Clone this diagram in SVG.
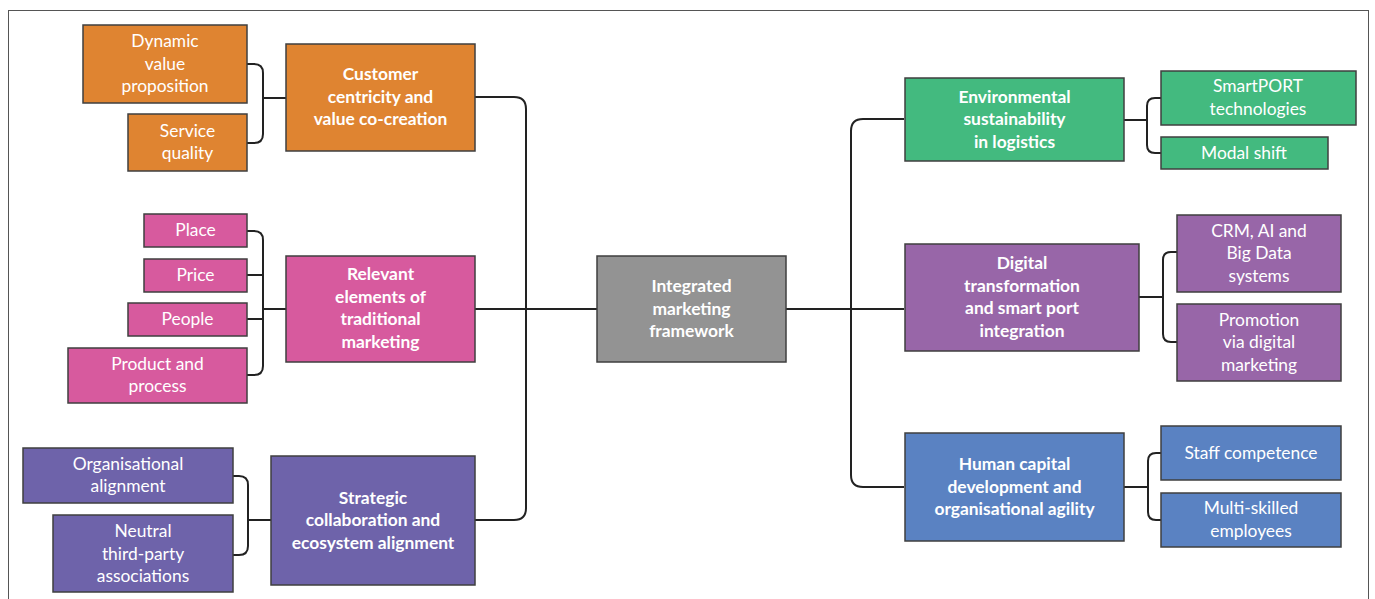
<svg xmlns="http://www.w3.org/2000/svg" width="1375" height="599" viewBox="0 0 1375 599">
<style>
.n rect{stroke:#3f3f3f;stroke-width:1.5}
.n text{font-family:Lato,"Liberation Sans",sans-serif;font-size:17.4px;fill:#ffffff;text-anchor:middle}
.b text{font-weight:bold}
.or rect{fill:#df8431}
.pk rect{fill:#d75a9e}
.pu rect{fill:#6e63aa}
.gy rect{fill:#939393}
.gr rect{fill:#43ba7f}
.vi rect{fill:#9866a8}
.bl rect{fill:#5a82c2}
.c path{fill:none;stroke:#222;stroke-width:2}
</style>
<rect x="0" y="0" width="1375" height="599" fill="#ffffff"/>
<rect x="8.5" y="10.5" width="1360" height="620" fill="none" stroke="#555" stroke-width="1"/>
<g class="c" id="connectors">
<path d="M475,97 H514 Q526,97 526,109 V508 Q526,520 514,520 H475"/>
<path d="M475,309 H597"/>
<path d="M904,119 H863 Q851,119 851,131 V475 Q851,487 863,487 H904"/>
<path d="M786,309 H904"/>
<path d="M247,64 H254 Q263,64 263,73 V134 Q263,143 254,143 H247 M263,98 H286"/>
<path d="M247,231 H254 Q263,231 263,240 V366 Q263,375 254,375 H247 M247,275 H263 M247,319 H263 M263,309 H286"/>
<path d="M232,476 H239 Q248,476 248,485 V546 Q248,555 239,555 H232 M248,520 H271"/>
<path d="M1124,120 H1147 M1161,98 H1155 Q1147,98 1147,106 V145 Q1147,153 1155,153 H1161"/>
<path d="M1139,297 H1163 M1177,252 H1171 Q1163,252 1163,260 V334 Q1163,342 1171,342 H1177"/>
<path d="M1124,487 H1148 M1161,453 H1156 Q1148,453 1148,461 V512 Q1148,520 1156,520 H1161"/>
</g>
<g id="dynamic" class="n or"><rect x="83" y="25" width="164" height="78"/><text x="165" y="47">Dynamic<tspan x="165" dy="22.5">value</tspan><tspan x="165" dy="22.5">proposition</tspan></text></g>
<g id="service" class="n or"><rect x="128" y="114" width="119" height="57"/><text x="187.5" y="136.5">Service<tspan x="187.5" dy="22.5">quality</tspan></text></g>
<g id="customer" class="n or b"><rect x="286" y="44" width="189" height="107"/><text x="380.5" y="80">Customer<tspan x="380.5" dy="22.5">centricity and</tspan><tspan x="380.5" dy="22.5">value co-creation</tspan></text></g>
<g id="place" class="n pk"><rect x="144" y="214" width="103" height="33"/><text x="195.5" y="236">Place</text></g>
<g id="price" class="n pk"><rect x="144" y="259" width="103" height="33"/><text x="195.5" y="281">Price</text></g>
<g id="people" class="n pk"><rect x="128" y="303" width="119" height="33"/><text x="187.5" y="325">People</text></g>
<g id="product" class="n pk"><rect x="68" y="348" width="179" height="55"/><text x="157.5" y="369.5">Product and<tspan x="157.5" dy="22.5">process</tspan></text></g>
<g id="relevant" class="n pk b"><rect x="286" y="256" width="189" height="106"/><text x="380.5" y="280">Relevant<tspan x="380.5" dy="22.5">elements of</tspan><tspan x="380.5" dy="22.5">traditional</tspan><tspan x="380.5" dy="22.5">marketing</tspan></text></g>
<g id="organisational" class="n pu"><rect x="23" y="448" width="210" height="55"/><text x="128" y="469.5">Organisational<tspan x="128" dy="22.5">alignment</tspan></text></g>
<g id="neutral" class="n pu"><rect x="53" y="515" width="180" height="77"/><text x="143" y="537">Neutral<tspan x="143" dy="22.5">third-party</tspan><tspan x="143" dy="22.5">associations</tspan></text></g>
<g id="strategic" class="n pu b"><rect x="271" y="456" width="204" height="129"/><text x="373" y="503.5">Strategic<tspan x="373" dy="22.5">collaboration and</tspan><tspan x="373" dy="22.5">ecosystem alignment</tspan></text></g>
<g id="integrated" class="n gy b"><rect x="597" y="256" width="189" height="106"/><text x="691.5" y="292">Integrated<tspan x="691.5" dy="22.5">marketing</tspan><tspan x="691.5" dy="22.5">framework</tspan></text></g>
<g id="environmental" class="n gr b"><rect x="905" y="78" width="219" height="83"/><text x="1014.5" y="102.5">Environmental<tspan x="1014.5" dy="22.5">sustainability</tspan><tspan x="1014.5" dy="22.5">in logistics</tspan></text></g>
<g id="smartport" class="n gr"><rect x="1161" y="71" width="195" height="54"/><text x="1258" y="92">SmartPORT<tspan x="1258" dy="22.5">technologies</tspan></text></g>
<g id="modal" class="n gr"><rect x="1161" y="137" width="167" height="32"/><text x="1244" y="158.5">Modal shift</text></g>
<g id="digital" class="n vi b"><rect x="905" y="244" width="234" height="107"/><text x="1022" y="269">Digital<tspan x="1022" dy="22.5">transformation</tspan><tspan x="1022" dy="22.5">and smart port</tspan><tspan x="1022" dy="22.5">integration</tspan></text></g>
<g id="crm" class="n vi"><rect x="1177" y="215" width="164" height="77"/><text x="1259" y="236.5">CRM, AI and<tspan x="1259" dy="22.5">Big Data</tspan><tspan x="1259" dy="22.5">systems</tspan></text></g>
<g id="promotion" class="n vi"><rect x="1177" y="304" width="164" height="77"/><text x="1259" y="325.5">Promotion<tspan x="1259" dy="22.5">via digital</tspan><tspan x="1259" dy="22.5">marketing</tspan></text></g>
<g id="human" class="n bl b"><rect x="905" y="433" width="219" height="108"/><text x="1014.5" y="470">Human capital<tspan x="1014.5" dy="22.5">development and</tspan><tspan x="1014.5" dy="22.5">organisational agility</tspan></text></g>
<g id="staff" class="n bl"><rect x="1161" y="426" width="180" height="54"/><text x="1251" y="458.5">Staff competence</text></g>
<g id="multi" class="n bl"><rect x="1161" y="493" width="180" height="54"/><text x="1251" y="514">Multi-skilled<tspan x="1251" dy="22.5">employees</tspan></text></g>
</svg>
